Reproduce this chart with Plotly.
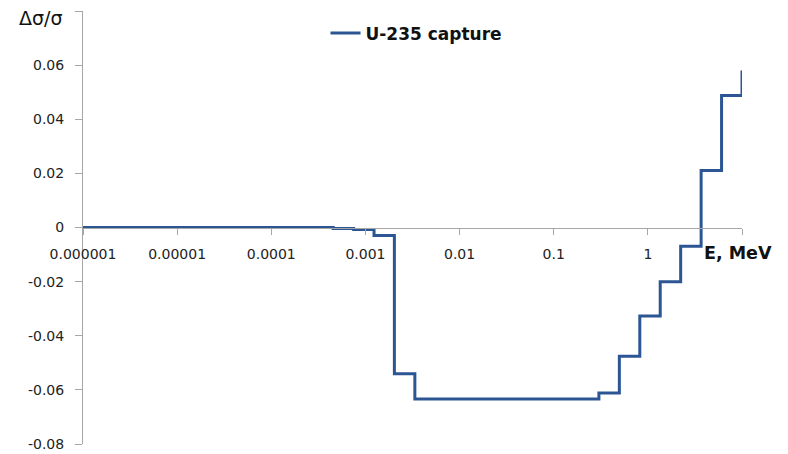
import plotly.graph_objects as go

# Step boundaries (MeV) and relative change values
energy = [1e-6, 4.54e-4, 7.49e-4, 1.234e-3, 2.03e-3, 3.35e-3, 0.302, 0.498,
          0.821, 1.353, 2.231, 3.679, 6.065, 10.0]
dsig = [0.0, -0.0004, -0.0007, -0.003, -0.054, -0.0634, -0.0612, -0.0476,
        -0.0327, -0.020, -0.0069, 0.0211, 0.0488, 0.058]

x_tickvals = [1e-6, 1e-5, 1e-4, 1e-3, 1e-2, 1e-1, 1, 10]
x_ticktext = ["0.000001", "0.00001", "0.0001", "0.001", "0.01", "0.1", "1", ""]
y_tickvals = [-0.08, -0.06, -0.04, -0.02, 0, 0.02, 0.04, 0.06, 0.08]
y_ticktext = ["-0.08", "-0.06", "-0.04", "-0.02", "0", "0.02", "0.04", "0.06", ""]

LINE = "#2C5693"
AX = "#A6A6A6"

fig = go.Figure()
fig.add_trace(go.Scatter(
    x=energy, y=dsig, mode="lines", line_shape="hv",
    line=dict(color=LINE, width=3), name="U-235 capture"))

fig.update_layout(
    width=788, height=454,
    margin=dict(l=83, r=46, t=11, b=10, autoexpand=False),
    paper_bgcolor="white", plot_bgcolor="white",
    font=dict(family="DejaVu Sans", size=14, color="#222222"),
    showlegend=True,
    legend=dict(x=0.368, y=0.99, xanchor="left", yanchor="top",
                bgcolor="rgba(0,0,0,0)",
                font=dict(family="DejaVu Sans", size=17, color="#111111",
                          weight="bold")),
    xaxis=dict(type="log", range=[-6, 1], tickvals=x_tickvals, ticktext=x_ticktext,
               showgrid=False, zeroline=False, showline=True, linecolor=AX,
               linewidth=1, ticks="outside", ticklen=6, tickcolor=AX,
               anchor="free", position=0.5, ticklabelstandoff=8, automargin=False,
               tickfont=dict(size=14, color="#222222")),
    yaxis=dict(range=[-0.08, 0.08], tickvals=y_tickvals, ticktext=y_ticktext,
               showgrid=False, zeroline=False, showline=True, linecolor=AX,
               linewidth=1, ticks="outside", ticklen=7, tickcolor=AX,
               ticklabelstandoff=8, automargin=False,
               tickfont=dict(size=14, color="#222222")),
    annotations=[
        dict(text="Δσ/σ", xref="paper", yref="paper", x=-0.1, y=0.983,
             xanchor="left", yanchor="middle", showarrow=False,
             font=dict(family="DejaVu Sans", size=19, color="#111111")),
        dict(text="<b>E, MeV</b>", xref="paper", yref="paper", x=0.94, y=0.442,
             xanchor="left", yanchor="middle", showarrow=False,
             font=dict(family="DejaVu Sans", size=17.5, color="#111111")),
    ],
)

fig.write_html("out.html")
